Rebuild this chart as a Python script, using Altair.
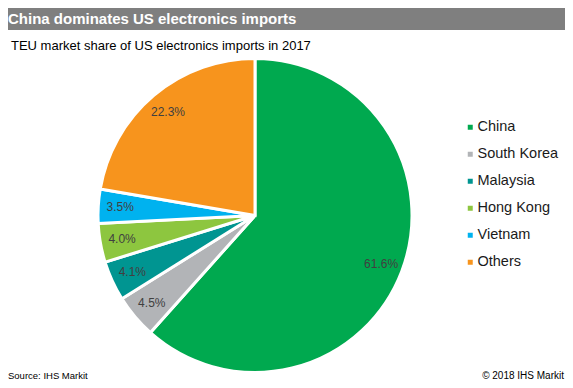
import altair as alt
import pandas as pd

categories = ["China", "South Korea", "Malaysia", "Hong Kong", "Vietnam", "Others"]
shares = [61.6, 4.5, 4.1, 4.0, 3.5, 22.3]
colors = ["#00a94f", "#b2b4b7", "#009591", "#8dc63f", "#00b2ef", "#f7941d"]
title_text = "China dominates US electronics imports"
subtitle_text = "TEU market share of US electronics imports in 2017"
source_text = "Source: IHS Markit"
copyright_text = "\u00a9 2018 IHS Markit"

df = pd.DataFrame({"country": categories, "share": shares, "idx": list(range(len(categories)))})
df["label"] = [f"{v:.1f}%" for v in shares]
one = pd.DataFrame({"t": [0]})

FONT = "Liberation Sans"
W, H = 573, 388
CX, CY, R = 255, 215.5, 157

base = alt.Chart(df).encode(
    theta=alt.Theta("share:Q", stack=True),
    order=alt.Order("idx:Q"),
)

pie = base.mark_arc(outerRadius=R, stroke="white", strokeWidth=3).encode(
    x=alt.value(CX),
    y=alt.value(CY),
    color=alt.Color(
        "country:N",
        sort=categories,
        scale=alt.Scale(domain=categories, range=colors),
        legend=alt.Legend(
            title=None,
            orient="none",
            legendX=463,
            legendY=120,
            symbolType="square",
            symbolSize=25,
            symbolStrokeWidth=0,
            labelFont=FONT,
            labelFontSize=14.5,
            labelColor="#1a1a1a",
            labelOffset=0,
            rowPadding=12,
        ),
    ),
)

labels = base.mark_text(radius=135, font=FONT, fontSize=12, color="#404040").encode(
    x=alt.value(CX),
    y=alt.value(CY),
    text="label:N",
)

header = alt.Chart(one).mark_rect(color="#7f7f7f").encode(
    x=alt.value(0), x2=alt.value(W), y=alt.value(0), y2=alt.value(30)
)
title = alt.Chart(one).mark_text(
    align="left", baseline="middle", font=FONT, fontSize=15, fontWeight="bold", color="white"
).encode(x=alt.value(8), y=alt.value(19), text=alt.value(title_text))
subtitle = alt.Chart(one).mark_text(
    align="left", baseline="middle", font=FONT, fontSize=13, color="#000000"
).encode(x=alt.value(11), y=alt.value(46), text=alt.value(subtitle_text))
source = alt.Chart(one).mark_text(
    align="left", baseline="middle", font=FONT, fontSize=9.5, color="#000000"
).encode(x=alt.value(8), y=alt.value(376), text=alt.value(source_text))
copyright_ = alt.Chart(one).mark_text(
    align="right", baseline="middle", font=FONT, fontSize=10, color="#000000"
).encode(x=alt.value(564), y=alt.value(376), text=alt.value(copyright_text))

chart = alt.layer(header, title, subtitle, pie, labels, source, copyright_).properties(
    width=W,
    height=H,
    padding={"left": -8, "top": -8, "right": -8, "bottom": -8},
    autosize=alt.AutoSizeParams(type="none"),
    background="white",
).configure_view(strokeWidth=0)

chart.save("out.html", embed_options={"renderer": "svg", "actions": False})
